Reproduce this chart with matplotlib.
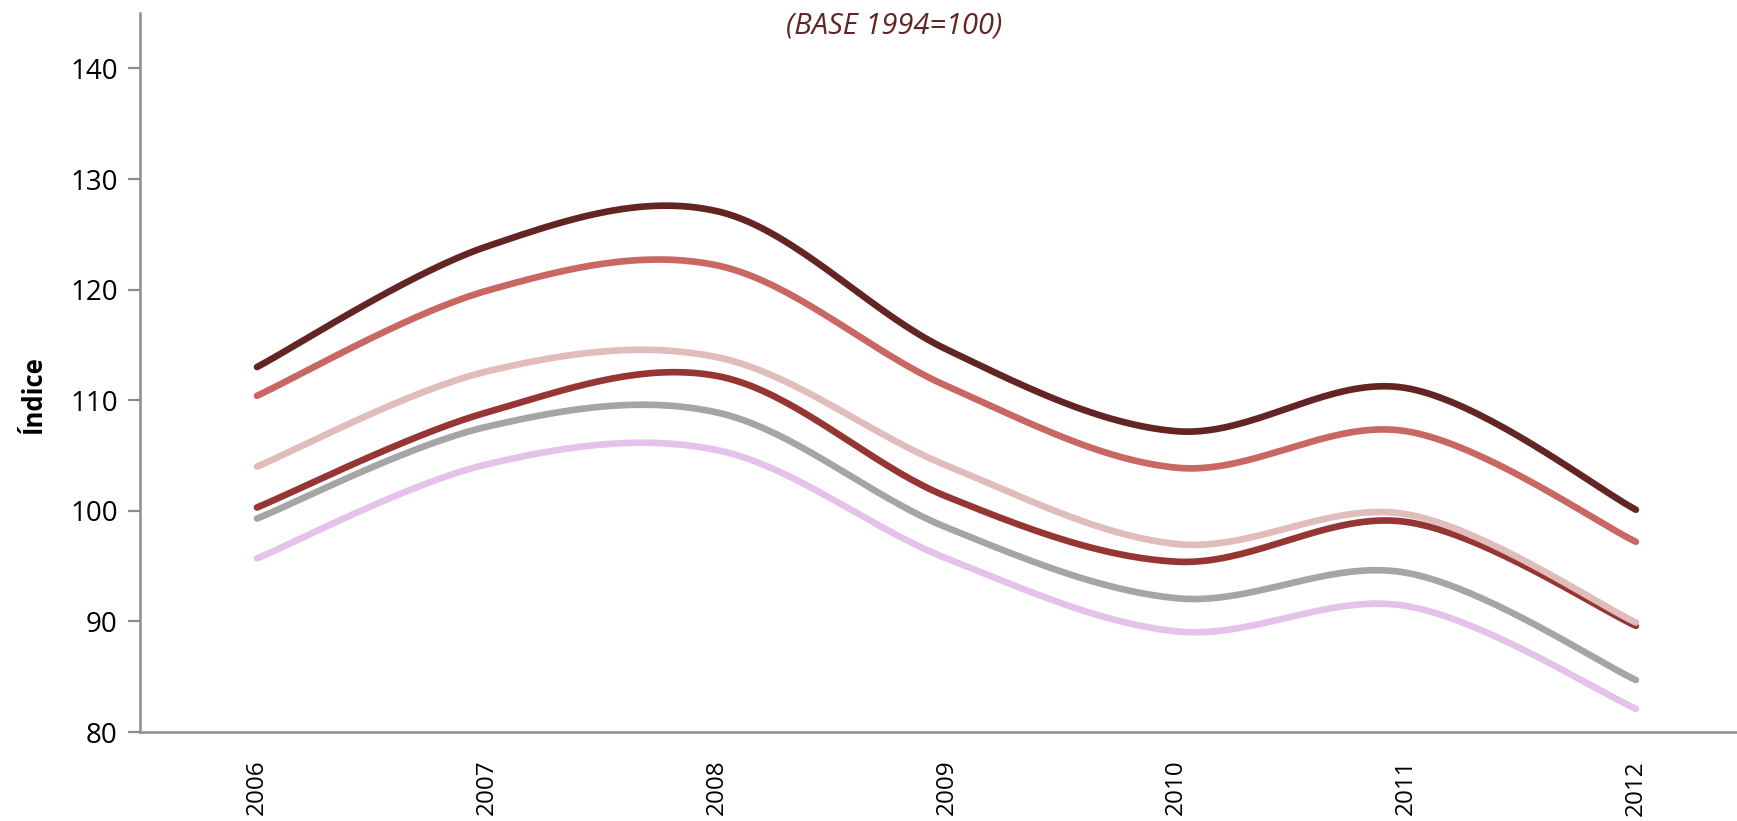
import numpy as np
import matplotlib
matplotlib.use("Agg")
import matplotlib.pyplot as plt

plt.rcParams['font.family'] = ['Open Sans', 'DejaVu Sans']

# Index values (base 1994 = 100)
years = ["2006", "2007", "2008", "2009", "2010", "2011", "2012"]
serie_a = [113.0, 123.9, 127.1, 114.6, 107.2, 111.1, 100.1]
serie_b = [110.4, 119.9, 122.2, 111.3, 103.9, 107.2, 97.2]
serie_c = [100.3, 108.9, 112.2, 101.3, 95.4, 99.0, 89.6]
serie_d = [104.0, 112.6, 113.9, 104.1, 97.0, 99.7, 89.9]
serie_e = [99.3, 107.6, 108.9, 98.5, 92.1, 94.4, 84.7]
serie_f = [95.7, 104.2, 105.5, 95.7, 89.1, 91.4, 82.1]

series = [serie_a, serie_b, serie_c, serie_d, serie_e, serie_f]
colors = ["#632523", "#C96763", "#963634", "#E0BCBB", "#A5A5A5", "#E5C2E9"]


def smooth_line(xs, ys, n=40):
    # spreadsheet-style smoothed line: cubic bezier per segment
    p = np.column_stack([xs, ys]).astype(float)
    k = len(p)
    out = []
    for i in range(k - 1):
        p0 = p[max(i - 1, 0)]
        p1 = p[i]
        p2 = p[i + 1]
        p3 = p[min(i + 2, k - 1)]
        c1 = p1 + (p2 - p0) / 6.0
        c2 = p2 - (p3 - p1) / 6.0
        t = np.linspace(0, 1, n)[:, None]
        seg = ((1 - t) ** 3) * p1 + 3 * ((1 - t) ** 2) * t * c1 \
            + 3 * (1 - t) * t ** 2 * c2 + t ** 3 * p2
        out.append(seg if i == 0 else seg[1:])
    out = np.vstack(out)
    return out[:, 0], out[:, 1]


fig = plt.figure(figsize=(17.37, 8.21), dpi=100)
ax = fig.add_axes([0.0806, 0.1084, 0.926, 0.8756])

x = np.arange(len(years))
for vals, col in zip(series, colors):
    sx, sy = smooth_line(x, vals)
    ax.plot(sx, sy, color=col, lw=4.8, solid_capstyle="round",
            solid_joinstyle="round")

ax.set_xlim(-0.509, 6.49)
ax.set_ylim(80, 145)
ax.set_yticks(np.arange(80, 141, 10))
ax.set_xticks(x)
ax.set_xticklabels(years, rotation=90, fontsize=17.5)
ax.tick_params(axis="y", labelsize=20, length=9, width=1.6,
               color="#8C8C8C", pad=7)
ax.tick_params(axis="x", length=0, pad=20)

for side in ["top", "right"]:
    ax.spines[side].set_visible(False)
for side in ["left", "bottom"]:
    ax.spines[side].set_color("#8C8C8C")
    ax.spines[side].set_linewidth(1.8)

fig.text(0.019, 0.52, "Índice", rotation=90, fontsize=18.5,
         fontweight="bold", ha="center", va="center")
fig.text(0.5145, 0.968, "(BASE 1994=100)", fontsize=21, style="italic",
         color="#632523", ha="center", va="center")

fig.savefig("out.png", dpi=100)
